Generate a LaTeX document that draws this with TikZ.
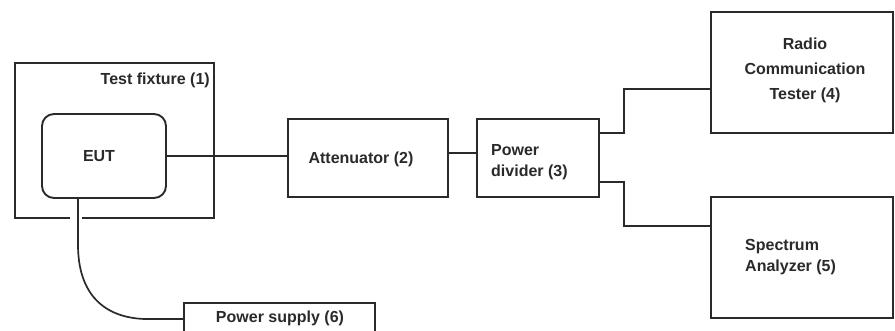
\documentclass[tikz,border=0pt]{standalone}
\usepackage{fontspec}
\setmainfont{Liberation Sans}
\usetikzlibrary{calc}
\definecolor{ink}{HTML}{2A2A2A}
\tikzset{
  blk/.style={draw=ink, line width=1.9pt, inner sep=0pt, outer sep=0pt, rectangle},
  lbl/.style={text=ink, font=\bfseries\fontsize{16}{21}\selectfont, inner sep=0pt},
  wire/.style={draw=ink, line width=1.7pt},
}
\begin{document}
\begin{tikzpicture}[x=1pt,y=-1pt]
\clip (0,0) rectangle (895,331);
\fill[white] (0,0) rectangle (895,331);
% boxes
\node[blk, minimum width=199pt, minimum height=155pt] (fixture) at (114.5,140.5) {};
\node[blk, rounded corners=12pt, minimum width=124pt, minimum height=84pt] (eut) at (104,156) {};
\node[blk, minimum width=160pt, minimum height=78pt] (att) at (368,158) {};
\node[blk, minimum width=122pt, minimum height=78pt] (pd) at (538,158) {};
\node[blk, minimum width=182pt, minimum height=121pt] (radio) at (802,72.5) {};
\node[blk, minimum width=182pt, minimum height=121pt] (spec) at (802,257.5) {};
\node[blk, minimum width=191pt, minimum height=34pt] (ps) at (279.5,320) {};
% labels
\node[lbl, anchor=east] (tfl) at (210,80) {Test fixture (1)};
\node[lbl] (eutl) at (99,156) {EUT};
\node[lbl] (attl) at (361,159) {Attenuator (2)};
\node[lbl, align=left, anchor=west] (pdl) at (491,162) {Power\\divider (3)};
\node[lbl, align=center, font=\bfseries\fontsize{16}{25}\selectfont] (radiol) at (805,70) {Radio\\Communication\\Tester (4)};
\node[lbl, align=left, anchor=west] (specl) at (745,257) {Spectrum\\Analyzer (5)};
\node[lbl] (psl) at (280,318) {Power supply (6)};
% connectors
\draw[wire] (eut.east) -- (eut.east -| att.west);
\draw[wire] ($(att.east)+(0,-5)$) -- ($(pd.west)+(0,-5)$);
\draw[wire] ($(pd.east)+(0,-25)$) -- ++(25,0) |- ($(radio.west)+(0,16.5)$);
\draw[wire] ($(pd.east)+(0,24)$) -- ++(25,0) |- ($(spec.west)+(0,-31.5)$);
% gap in fixture bottom edge
\draw[white, line width=3pt] ($(fixture.south west)+(55,0)$) -- ($(fixture.south west)+(67,0)$);
\coordinate (bend) at (78,247);
\draw[wire] ($(eut.south)+(-26,0)$) -- (bend) .. controls (79,300) and (110,318) .. (145,319) -- (ps.west |- 0,319);
\end{tikzpicture}
\end{document}
